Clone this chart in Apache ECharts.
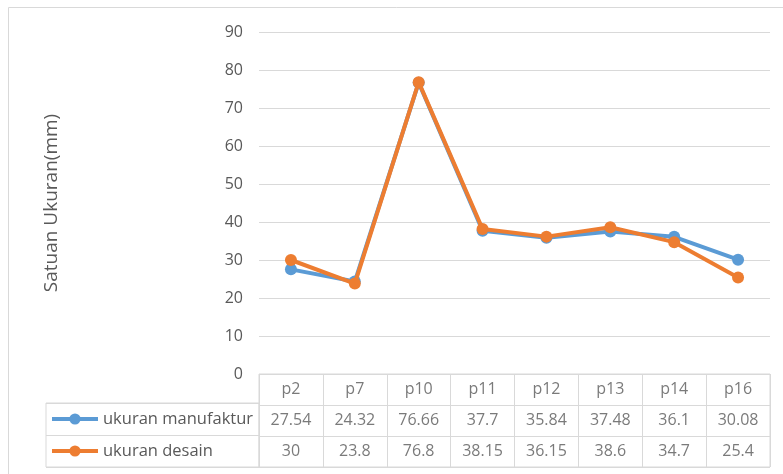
<!DOCTYPE html>
<html>
<head>
<meta charset="utf-8">
<script src="https://cdn.jsdelivr.net/npm/echarts@6/dist/echarts.min.js"></script>
<style>
  html, body { margin: 0; padding: 0; background: #fff; }
  #chart { width: 783px; height: 474px; }
</style>
</head>
<body>
<div id="chart"></div>
<script>
// data taken from the chart's data table
var categories = ['p2', 'p7', 'p10', 'p11', 'p12', 'p13', 'p14', 'p16'];
var seriesNames = ['ukuran manufaktur', 'ukuran desain'];
var manufaktur = [27.54, 24.32, 76.66, 37.7, 35.84, 37.48, 36.1, 30.08];
var desain = [30, 23.8, 76.8, 38.15, 36.15, 38.6, 34.7, 25.4];
var yTitle = 'Satuan Ukuran(mm)';

var font = '"Open Sans", sans-serif';
var textColor = '#595959';
var lineColor = '#d9d9d9';
var colors = ['#5b9bd5', '#ed7d31'];

// table cells: header row + one row per series
var cells = [];
categories.forEach(function (c, i) {
    cells.push([i, 0, c]);
    cells.push([i, 1, String(manufaktur[i])]);
    cells.push([i, 2, String(desain[i])]);
});

var chart = echarts.init(document.getElementById('chart'));
var option = {
    animation: false,
    color: colors,
    textStyle: { fontFamily: font },
    graphic: [{
        type: 'rect',
        shape: { x: 8.5, y: 7.5, width: 900, height: 600 },
        style: { fill: 'none', stroke: lineColor, lineWidth: 1 },
        silent: true
    }],
    legend: {
        orient: 'vertical',
        left: 45,
        top: 404,
        itemWidth: 46,
        itemHeight: 14,
        itemGap: 12,
        lineStyle: { width: 4 },
        textStyle: { fontFamily: font, fontSize: 16.5, lineHeight: 20, color: textColor },
        data: seriesNames
    },
    grid: [
        // plot area
        { left: 259, right: 13, top: 32, bottom: 100 },
        // value table
        { left: 259, right: 13, top: 374, bottom: 7, show: true, borderColor: lineColor, borderWidth: 1 },
        // series name column
        { left: 46, width: 213, top: 403, bottom: 7, show: true, borderColor: lineColor, borderWidth: 1 }
    ],
    xAxis: [{
        gridIndex: 0,
        type: 'category',
        data: categories,
        boundaryGap: true,
        axisLine: { show: false },
        axisTick: { show: false },
        axisLabel: { show: false }
    }, {
        gridIndex: 1,
        type: 'category',
        data: categories,
        boundaryGap: true,
        axisLine: { show: false },
        axisTick: { show: false },
        axisLabel: { show: false },
        splitLine: { show: true, lineStyle: { color: lineColor, width: 1 } }
    }, {
        gridIndex: 2,
        type: 'value',
        show: false
    }],
    yAxis: [{
        gridIndex: 0,
        type: 'value',
        min: 0,
        max: 90,
        interval: 10,
        name: yTitle,
        nameLocation: 'middle',
        nameGap: 198,
        nameRotate: 90,
        nameTextStyle: { fontFamily: font, fontSize: 19, color: textColor },
        axisLine: { show: false },
        axisTick: { show: false },
        axisLabel: { fontFamily: font, fontSize: 16, color: textColor, margin: 16 },
        splitLine: { lineStyle: { color: lineColor, width: 1 } }
    }, {
        gridIndex: 1,
        type: 'category',
        data: ['head', 'm', 'd'],
        inverse: true,
        boundaryGap: true,
        axisLine: { show: false },
        axisTick: { show: false },
        axisLabel: { show: false },
        splitLine: { show: true, lineStyle: { color: lineColor, width: 1 } }
    }, {
        gridIndex: 2,
        type: 'category',
        data: seriesNames,
        inverse: true,
        boundaryGap: true,
        axisLine: { show: false },
        axisTick: { show: false },
        axisLabel: { show: false },
        splitLine: { show: true, lineStyle: { color: lineColor, width: 1 } }
    }],
    series: [{
        name: seriesNames[0],
        type: 'line',
        data: manufaktur,
        symbol: 'circle',
        symbolSize: 12,
        lineStyle: { width: 4 },
        z: 3
    }, {
        name: seriesNames[1],
        type: 'line',
        data: desain,
        symbol: 'circle',
        symbolSize: 12,
        lineStyle: { width: 4 },
        z: 4
    }, {
        type: 'scatter',
        xAxisIndex: 1,
        yAxisIndex: 1,
        data: cells,
        symbolSize: 1,
        itemStyle: { color: 'transparent' },
        label: {
            show: true,
            position: 'inside',
            formatter: function (p) { return p.data[2]; },
            fontFamily: font,
            fontSize: 16,
            color: textColor
        },
        silent: true
    }]
};
chart.setOption(option);
</script>
</body>
</html>
